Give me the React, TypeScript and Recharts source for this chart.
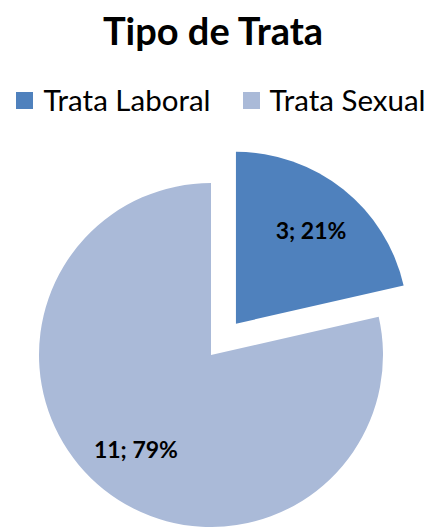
import { Cell, Pie, PieChart, Sector } from "recharts";

const categories = ["Trata Laboral", "Trata Sexual"];
const counts = [3, 11];
const colors = ["#4F81BD", "#AABAD8"];

const data = categories.map((name, i) => ({ name, value: counts[i] }));
const total = counts.reduce((a, b) => a + b, 0);

const RAD = Math.PI / 180;
const EXPLODE = 40;
const FONT = "Lato, 'Open Sans', sans-serif";

function offsetFor(name: string, midAngle: number) {
  if (name !== categories[0]) return { dx: 0, dy: 0 };
  return { dx: EXPLODE * Math.cos(-midAngle * RAD), dy: EXPLODE * Math.sin(-midAngle * RAD) };
}

function SliceShape(props: any) {
  const { dx, dy } = offsetFor(props.name ?? props.payload?.name, props.midAngle);
  return <Sector {...props} cx={props.cx + dx} cy={props.cy + dy} stroke="none" />;
}

function renderLabel(props: any) {
  const { cx, cy, midAngle, outerRadius, value, name } = props;
  const { dx, dy } = offsetFor(name, midAngle);
  const r = outerRadius * 0.7;
  const x = cx + dx + r * Math.cos(-midAngle * RAD);
  const y = cy + dy + r * Math.sin(-midAngle * RAD);
  const pct = Math.round((value / total) * 100);
  return (
    <text
      x={x}
      y={y}
      textAnchor="middle"
      dominantBaseline="central"
      fill="#000"
      fontFamily={FONT}
      fontWeight={700}
      fontSize={23}
    >
      {`${value}; ${pct}%`}
    </text>
  );
}

export default function App() {
  return (
    <div style={{ position: "absolute", left: 0, top: 0, width: 426, height: 527, background: "#fff", overflow: "hidden" }}>
      <div
        style={{
          position: "absolute",
          top: 10,
          left: 0,
          width: 426,
          textAlign: "center",
          fontFamily: FONT,
          fontWeight: 700,
          fontSize: 38,
          lineHeight: "40px",
        }}
      >
        Tipo de Trata
      </div>
      <div
        style={{
          position: "absolute",
          top: 82,
          left: 8,
          width: 426,
          display: "flex",
          justifyContent: "center",
          gap: 32,
          fontFamily: FONT,
          fontSize: 29.5,
          lineHeight: "36px",
        }}
      >
        {categories.map((c, i) => (
          <div key={c} style={{ display: "flex", alignItems: "center", gap: 10 }}>
            <span style={{ width: 17, height: 17, background: colors[i], display: "inline-block" }} />
            <span>{c}</span>
          </div>
        ))}
      </div>
      <PieChart width={426} height={527} margin={{ top: 0, right: 0, bottom: 0, left: 0 }}>
        <Pie
          data={data}
          dataKey="value"
          nameKey="name"
          cx={211}
          cy={355}
          outerRadius={172}
          startAngle={90}
          endAngle={-270}
          stroke="none"
          shape={SliceShape}
          label={renderLabel}
          labelLine={false}
          isAnimationActive={false}
        >
          {data.map((d, i) => (
            <Cell key={d.name} fill={colors[i]} />
          ))}
        </Pie>
      </PieChart>
    </div>
  );
}
